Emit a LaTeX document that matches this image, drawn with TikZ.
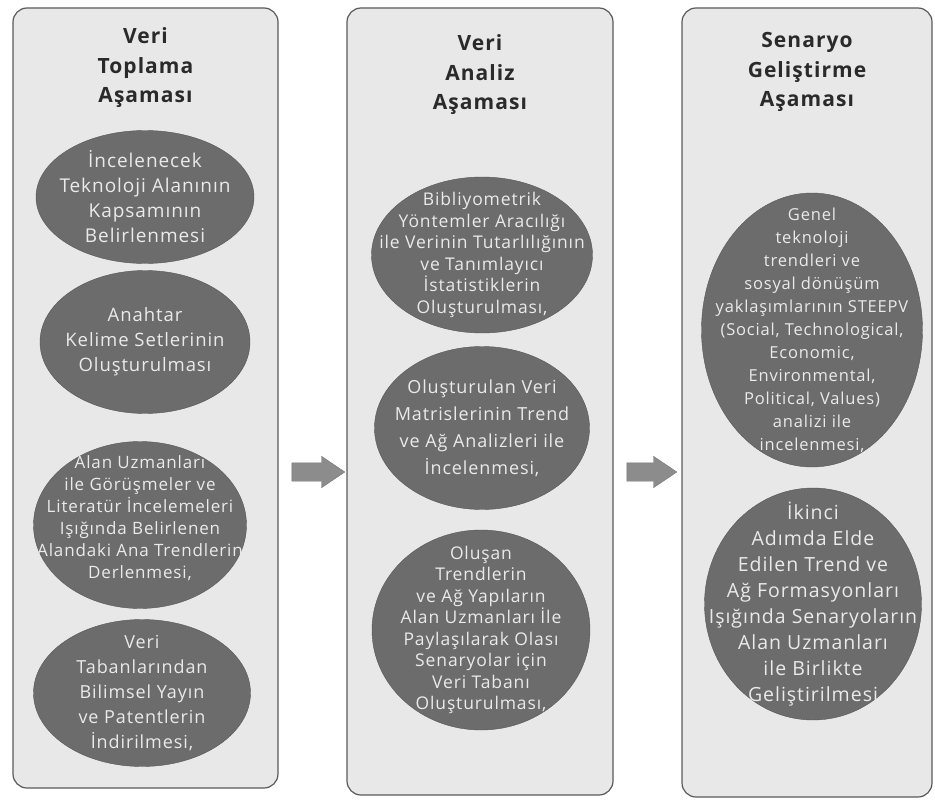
\documentclass[tikz,border=0pt]{standalone}
\usepackage{fontspec}
\setmainfont[LetterSpace=5]{Open Sans}
\usetikzlibrary{shapes.geometric, shapes.arrows, positioning}
\definecolor{panelfill}{HTML}{E8E8E8}
\definecolor{paneledge}{HTML}{5A5A5A}
\definecolor{blobfill}{HTML}{6C6C6C}
\definecolor{blobtext}{HTML}{EAEAEA}
\definecolor{arrowfill}{HTML}{8C8C8C}
\definecolor{titletext}{HTML}{2A2A2A}

\begin{document}
\begin{tikzpicture}[x=1pt, y=-1pt,
  panel/.style={draw=paneledge, fill=panelfill, line width=1.2pt, rounded corners=14pt, inner sep=0pt},
  title/.style={align=center, text=titletext, font=\fontsize{21}{29.5}\selectfont\bfseries, inner sep=0pt},
  blob/.style={ellipse, fill=blobfill, draw=blobfill!80!black, inner sep=0pt},
  blobtxt/.style={align=center, text=blobtext, inner sep=0pt},
  big/.style={font=\fontsize{18.5}{25}\selectfont},
  small/.style={font=\fontsize{17.5}{21.5}\selectfont},
  flow/.style={single arrow, fill=arrowfill, draw=arrowfill!85!black, inner sep=9pt,
    single arrow head extend=6.5pt, single arrow tip angle=68},
]
  \useasboundingbox (0,0) rectangle (935,800);

  % panels
  \node[panel, minimum width=265pt, minimum height=780pt] (p1) at (145.5,398) {};
  \node[panel, minimum width=266pt, minimum height=787pt] (p2) at (480,401.5) {};
  \node[panel, minimum width=250pt, minimum height=789pt] (p3) at (807,402.5) {};

  \node[title, below=20pt of p1.north] (t1) {Veri\\Toplama\\Aşaması};
  \node[title, below=27pt of p2.north] (t2) {Veri\\Analiz\\Aşaması};
  \node[title, below=25pt of p3.north] (t3) {Senaryo\\Geliştirme\\Aşaması};

  % first panel
  \node[blob, minimum width=218pt, minimum height=133pt] (e1) at (145,197) {};
  \node[blobtxt, font=\fontsize{19}{25}\selectfont] (e1t) at (e1) {İncelenecek\\Teknoloji Alanının\\Kapsamının\\Belirlenmesi};
  \node[blob, minimum width=210pt, minimum height=143pt] (e2) at (145,342) {};
  \node[blobtxt, big] (e2t) at (e2) {Anahtar\\Kelime Setlerinin\\Oluşturulması};
  \node[blob, minimum width=213pt, minimum height=167pt] (e3) at (140,525) {};
  \node[blobtxt, font=\fontsize{17}{22}\selectfont] (e3t) at ([yshift=7pt]e3.center) {Alan Uzmanları\\ile Görüşmeler ve\\Literatür İncelemeleri\\Işığında Belirlenen\\Alandaki Ana Trendlerin\\Derlenmesi,};
  \node[blob, minimum width=217pt, minimum height=147pt] (e4) at (142,693) {};
  \node[blobtxt, font=\fontsize{18}{25}\selectfont] (e4t) at (e4) {Veri\\Tabanlarından\\Bilimsel Yayın\\ve Patentlerin\\İndirilmesi,};

  % second panel
  \node[blob, minimum width=221pt, minimum height=156pt] (e5) at (482,255) {};
  \node[blobtxt, small] (e5t) at (e5) {Bibliyometrik\\Yöntemler Aracılığı\\ile Verinin Tutarlılığının\\ve Tanımlayıcı\\İstatistiklerin\\Oluşturulması,};
  \node[blob, minimum width=215pt, minimum height=163pt] (e6) at (482,428) {};
  \node[blobtxt, font=\fontsize{18}{27}\selectfont] (e6t) at (e6) {Oluşturulan Veri\\Matrislerinin Trend\\ve Ağ Analizleri ile\\İncelenmesi,};
  \node[blob, minimum width=218pt, minimum height=200pt] (e7) at (481,630) {};
  \node[blobtxt, small] (e7t) at (e7) {Oluşan\\Trendlerin\\ve Ağ Yapıların\\Alan Uzmanları İle\\Paylaşılarak Olası\\Senaryolar için\\Veri Tabanı\\Oluşturulması,};

  % third panel
  \node[blob, minimum width=221pt, minimum height=274pt] (e8) at (812,330) {};
  \node[blobtxt, font=\fontsize{16.5}{23}\selectfont] (e8t) at (e8) {Genel\\teknoloji\\trendleri ve\\sosyal dönüşüm\\yaklaşımlarının STEEPV\\(Social, Technological,\\Economic,\\Environmental,\\Political, Values)\\analizi ile\\incelenmesi,};
  \node[blob, minimum width=217pt, minimum height=232pt] (e9) at (813,604) {};
  \node[blobtxt, font=\fontsize{19.5}{26}\selectfont] (e9t) at (e9) {İkinci\\Adımda Elde\\Edilen Trend ve\\Ağ Formasyonları\\Işığında Senaryoların\\Alan Uzmanları\\ile Birlikte\\Geliştirilmesi};

  % arrows between phases
  \node[flow, minimum height=53pt] (a1) at (311.5,472) {};
  \node[flow, minimum height=50pt] (a2) at (645,472) {};
\end{tikzpicture}
\end{document}
